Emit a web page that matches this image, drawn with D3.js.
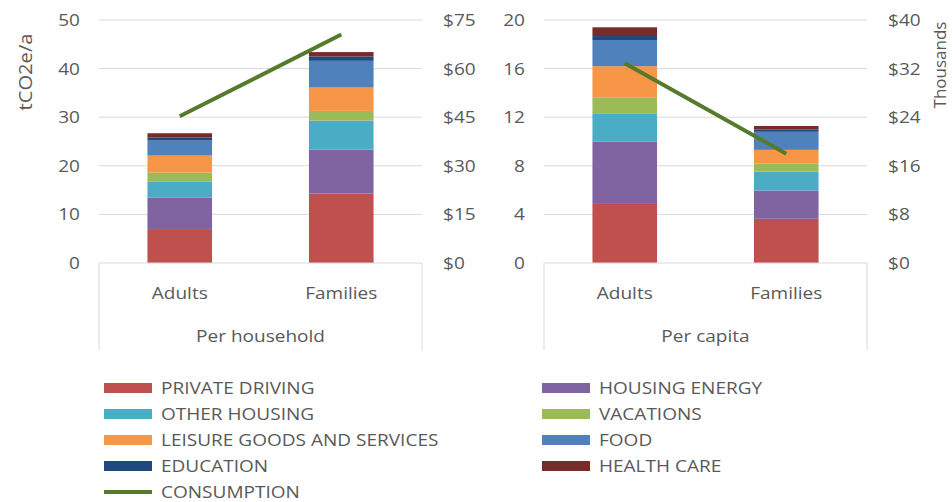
<!DOCTYPE html>
<html>
<head>
<meta charset="utf-8">
<script src="https://cdn.jsdelivr.net/npm/d3@7/dist/d3.min.js"></script>
<style>
  html, body { margin: 0; padding: 0; background: #fff; }
  svg { display: block; }
  text { font-family: "Open Sans", "Noto Sans", sans-serif; fill: #595959; }
</style>
</head>
<body>
<svg id="chart" width="952" height="502"></svg>
<script>
// ---- data ----
const categories = ["Adults", "Families"];
const groups = ["Per household", "Per capita"];
const seriesNames = ["PRIVATE DRIVING", "HOUSING ENERGY", "OTHER HOUSING", "VACATIONS",
  "LEISURE GOODS AND SERVICES", "FOOD", "EDUCATION", "HEALTH CARE"];
const seriesColors = ["#c0504d", "#8064a2", "#4bacc6", "#9bbb59", "#f79646", "#4f81bd", "#1f497d", "#772c2a"];
// values: [household Adults, household Families, per-capita Adults, per-capita Families] (tCO2e/a)
const privateDriving = [6.8, 14.3, 4.93, 3.64];
const housingEnergy = [6.7, 9.0, 5.07, 2.33];
const otherHousing = [3.2, 6.0, 2.27, 1.56];
const vacations = [1.9, 2.0, 1.37, 0.67];
const leisure = [3.5, 4.8, 2.56, 1.11];
const food = [3.2, 5.5, 2.15, 1.49];
const education = [0.5, 0.9, 0.33, 0.2];
const healthCare = [0.9, 0.9, 0.72, 0.28];
// consumption, thousands of dollars
const consumption = [45.3, 70.5, 32.9, 18.0];
const consumptionName = "CONSUMPTION";
const consumptionColor = "#567a2c";
// ticks
const leftTicksHousehold = [0, 10, 20, 30, 40, 50];
const rightTicksHousehold = [0, 15, 30, 45, 60, 75];
const leftTicksCapita = [0, 4, 8, 12, 16, 20];
const rightTicksCapita = [0, 8, 16, 24, 32, 40];
const leftAxisTitle = "tCO2e/a";
const rightAxisTitle = "Thousands";

const seriesValues = [privateDriving, housingEnergy, otherHousing, vacations, leisure, food, education, healthCare];

// ---- layout ----
const svg = d3.select("#chart");
const SX = 1.12;      // horizontal text stretch to match reference
const FS = 17;
const plotTop = 20, plotBottom = 263;

function label(g, x, y, txt, anchor) {
  return g.append("text")
    .attr("transform", `translate(${x},${y}) scale(${SX},1)`)
    .attr("text-anchor", anchor)
    .attr("font-size", FS)
    .text(txt);
}

const panels = [
  { x0: 99, x1: 422, offset: 0, group: groups[0], lt: leftTicksHousehold, rt: rightTicksHousehold },
  { x0: 544, x1: 867, offset: 2, group: groups[1], lt: leftTicksCapita, rt: rightTicksCapita }
];

panels.forEach(p => {
  const g = svg.append("g");
  const x = d3.scaleBand().domain(categories).range([p.x0, p.x1]).padding(0);
  const barW = x.bandwidth() * 0.4;
  const y = d3.scaleLinear().domain([0, d3.max(p.lt)]).range([plotBottom, plotTop]);
  const y2 = d3.scaleLinear().domain([0, d3.max(p.rt)]).range([plotBottom, plotTop]);

  // gridlines
  g.append("g").selectAll("line").data(p.lt.filter(t => t > 0)).join("line")
    .attr("x1", p.x0).attr("x2", p.x1)
    .attr("y1", d => y(d)).attr("y2", d => y(d))
    .attr("stroke", "#d9d9d9").attr("stroke-width", 1);

  // stacked bars
  const rows = categories.map((c, i) => {
    const r = { cat: c };
    seriesNames.forEach((s, k) => r[s] = seriesValues[k][p.offset + i]);
    return r;
  });
  const stack = d3.stack().keys(seriesNames)(rows);
  stack.forEach((layer, k) => {
    g.append("g").attr("fill", seriesColors[k])
      .selectAll("rect").data(layer).join("rect")
      .attr("x", d => x(d.data.cat) + (x.bandwidth() - barW) / 2)
      .attr("width", barW)
      .attr("y", d => y(d[1]))
      .attr("height", d => y(d[0]) - y(d[1]));
  });

  // category axis frame
  g.append("line").attr("x1", p.x0).attr("x2", p.x1).attr("y1", plotBottom).attr("y2", plotBottom)
    .attr("stroke", "#d9d9d9");
  [p.x0, p.x1].forEach(xx => g.append("line").attr("x1", xx).attr("x2", xx)
    .attr("y1", plotBottom).attr("y2", 350).attr("stroke", "#d9d9d9"));

  // consumption line
  const line = d3.line().x(d => x(d.cat) + x.bandwidth() / 2).y(d => y2(d.v));
  g.append("path")
    .datum(categories.map((c, i) => ({ cat: c, v: consumption[p.offset + i] })))
    .attr("d", line).attr("fill", "none")
    .attr("stroke", consumptionColor).attr("stroke-width", 4);

  // tick labels
  p.lt.forEach(t => label(g, p.x0 - 19, y(t) + 6, String(t), "end"));
  p.rt.forEach(t => label(g, p.x1 + 21, y2(t) + 6, "$" + t, "start"));

  // category labels
  categories.forEach(c => label(g, x(c) + x.bandwidth() / 2, 299, c, "middle"));
  label(g, (p.x0 + p.x1) / 2, 342, p.group, "middle");
});

// axis titles
label(svg, 0, 0, leftAxisTitle, "middle")
  .attr("font-size", 18)
  .attr("transform", `translate(32,72) rotate(-90) scale(${SX},1)`);
label(svg, 0, 0, rightAxisTitle, "middle")
  .attr("transform", `translate(946,65) rotate(-90)`);

// legend
const legendItems = seriesNames.map((s, k) => ({ name: s, color: seriesColors[k], type: "rect" }));
legendItems.push({ name: consumptionName, color: consumptionColor, type: "line" });
const lg = svg.append("g");
legendItems.forEach((d, i) => {
  const col = d.type === "line" ? 0 : i % 2;
  const row = d.type === "line" ? 4 : Math.floor(i / 2);
  const sx = col === 0 ? 104 : 542;
  const yy = 388 + row * 26;
  if (d.type === "rect") {
    lg.append("rect").attr("x", sx).attr("y", yy - 5).attr("width", 48).attr("height", 10).attr("fill", d.color);
  } else {
    lg.append("line").attr("x1", sx).attr("x2", sx + 48).attr("y1", yy).attr("y2", yy)
      .attr("stroke", d.color).attr("stroke-width", 4);
  }
  label(lg, sx + 57, yy + 6, d.name, "start");
});
</script>
</body>
</html>
